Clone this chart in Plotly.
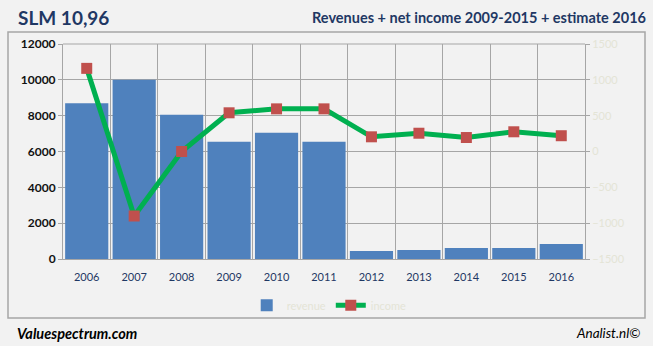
import plotly.graph_objects as go

years = ["2006", "2007", "2008", "2009", "2010", "2011",
         "2012", "2013", "2014", "2015", "2016"]
revenue = [8700, 10000, 8050, 6550, 7050, 6550, 450, 500, 610, 610, 840]
income = [1160, -900, 0, 540, 595, 595, 205, 255, 195, 275, 220]

left_ticks = [0, 2000, 4000, 6000, 8000, 10000, 12000]
right_ticks = [-1500, -1000, -500, 0, 500, 1000, 1500]

BG = "#f2f2f2"
GRID = "#a6a6a6"
NAVY = "#1f3864"
FAINT = "#e4e4d6"

fig = go.Figure()

fig.add_trace(go.Bar(
    x=years, y=revenue, name="revenue",
    marker=dict(color="#4f81bd", line=dict(width=0)),
    yaxis="y",
))

fig.add_trace(go.Scatter(
    x=years, y=income, name="income", mode="lines+markers",
    line=dict(color="#00b050", width=5),
    marker=dict(symbol="square", size=11, color="#c0504d",
                line=dict(width=0)),
    yaxis="y2",
))

fig.update_layout(
    width=653, height=346,
    margin=dict(l=63, r=68, t=44, b=87),
    paper_bgcolor=BG, plot_bgcolor=BG,
    font=dict(family="Lato, Open Sans, sans-serif", color="#222222"),
    bargap=0.09,
    showlegend=True,
    legend=dict(orientation="h", x=0.51, y=-0.215, xanchor="center",
                yanchor="middle", bgcolor="rgba(0,0,0,0)",
                font=dict(size=11, color=FAINT), itemwidth=30),
    xaxis=dict(
        type="category", tickson="boundaries",
        showgrid=True, gridcolor=GRID, gridwidth=1,
        showline=True, linecolor=GRID,
        ticks="", tickfont=dict(size=11, color=NAVY),
        ticklabelstandoff=8,
        range=[-0.5, 10.5],
    ),
    yaxis=dict(
        range=[0, 12000], tickvals=left_ticks,
        ticktext=[f"<b>{v}</b>" for v in left_ticks],
        showgrid=True, gridcolor=GRID, gridwidth=1,
        showline=True, linecolor=GRID, linewidth=1,
        ticks="outside", ticklen=4, tickcolor=GRID,
        tickfont=dict(size=12, color="#111111"),
        zeroline=False,
    ),
    yaxis2=dict(
        overlaying="y", side="right",
        range=[-1500, 1500], tickvals=right_ticks,
        showgrid=False, zeroline=False,
        showline=True, linecolor=GRID, linewidth=1,
        ticks="outside", ticklen=4, tickcolor=GRID,
        tickfont=dict(size=11, color=FAINT),
    ),
    shapes=[
        dict(type="rect", xref="paper", yref="paper",
             x0=-55 / 522, x1=582 / 522, y0=-59 / 215, y1=227 / 215,
             line=dict(color="#a6a6a6", width=1.5), fillcolor="rgba(0,0,0,0)",
             layer="below"),
        dict(type="line", xref="paper", yref="paper",
             x0=0, x1=1, y0=1, y1=1, line=dict(color=GRID, width=1)),
    ],
    annotations=[
        dict(text="<b>SLM 10,96</b>", xref="paper", yref="paper",
             x=-47 / 522, y=(259 - 17) / 215, xanchor="left", yanchor="middle",
             showarrow=False, font=dict(size=19, color=NAVY)),
        dict(text="<b>Revenues + net income 2009-2015 + estimate 2016</b>",
             xref="paper", yref="paper",
             x=585 / 522, y=(259 - 17) / 215, xanchor="right", yanchor="middle",
             showarrow=False, font=dict(size=14.5, color=NAVY)),
        dict(text="<b><i>Valuespectrum.com</i></b>", xref="paper", yref="paper",
             x=-48 / 522, y=(259 - 333) / 215, xanchor="left", yanchor="middle",
             showarrow=False, font=dict(size=14.5, color="#000000")),
        dict(text="<i>Analist.nl</i>©", xref="paper", yref="paper",
             x=580 / 522, y=(259 - 333) / 215, xanchor="right", yanchor="middle",
             showarrow=False, font=dict(size=13.5, color="#000000")),
    ],
)

fig.write_html("out.html")
